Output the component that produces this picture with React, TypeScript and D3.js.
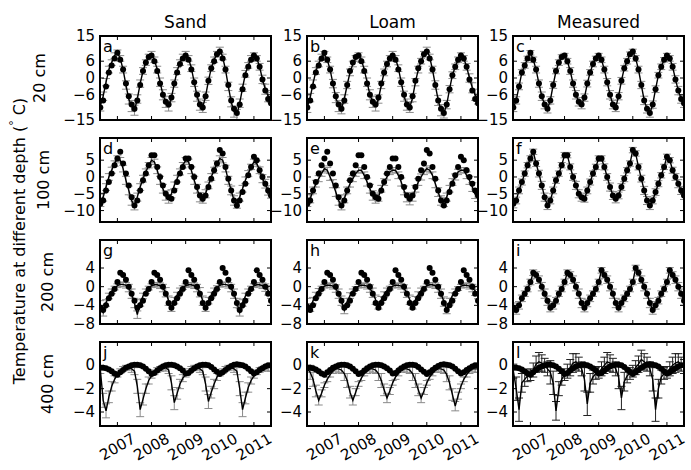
import React from 'react';
import * as d3 from 'd3';

// ---------- labels ----------
const columnTitles = ['Sand', 'Loam', 'Measured'];
const depthLabels = ['20 cm', '100 cm', '200 cm', '400 cm'];
const panelLetters = ['a', 'b', 'c', 'd', 'e', 'f', 'g', 'h', 'i', 'j', 'k', 'l'];
const yearTicks = [2007, 2008, 2009, 2010, 2011];
const yTicks20 = [-15, -6, 0, 6, 15];
const yTicks100 = [-10, -5, 0, 5];
const yTicks200 = [-8, -4, 0, 4];
const yTicks400 = [-4, -2, 0];
const yDomain20 = [-15, 15];
const yDomain100 = [-13.4, 11.6];
const yDomain200 = [-8, 10];
const yDomain400 = [-5.2, 2];
const startYear = 2006.5; // monthly series, first month July 2006

// ---------- 20 cm ----------
const meas20 = [-10.5, -8, -3, 2, 4.5, 7, 9, 6.5, 3, -2, -6.5, -9.5, -11,
  -8, -2.5, 2.5, 5.5, 7.5, 8, 6, 2.5, -2, -6, -8.5, -9.5,
  -7, -2, 2, 5, 7, 8, 6.5, 3, -1.5, -6, -9.5, -10.5,
  -6.5, -1, 3.5, 6, 8.5, 9.5, 7, 3, -2.5, -8, -11, -12.5,
  -9.5, -4, 1, 4, 6.5, 8, 7, 4, -0.5, -4.5, -7.5, -9];
const sand20 = [-10, -6.5, -1.5, 3, 5.5, 8, 9, 7, 3, -2.5, -7.5, -10, -11.5,
  -7.5, -2, 2.5, 5.5, 7.5, 8.5, 6.5, 3, -1.5, -6, -8.5, -10,
  -7, -2, 2.5, 5.5, 7.5, 8.5, 7, 3.5, -1.5, -6.5, -9.5, -10.5,
  -6.5, -1, 3.5, 6.5, 8.5, 10, 7.5, 3, -3, -8.5, -12, -13,
  -9, -3.5, 1.5, 4.5, 7, 8, 7, 4, -0.5, -4, -6.5, -7];
const loam20 = [-10.5, -7, -2, 2.5, 5, 7.5, 8.5, 6.5, 3, -2, -7, -10, -11,
  -7.5, -2.5, 2, 5, 7, 8, 6.5, 3, -1.5, -6, -8.5, -10,
  -7.5, -2.5, 2, 5, 7, 8.5, 7, 3.5, -1.5, -6.5, -9.5, -10.5,
  -7, -1.5, 3, 6, 8.5, 10, 7.5, 3, -2.5, -8, -11.5, -12.5,
  -9.5, -4, 1, 4, 6.5, 8, 7, 4, 0, -3.5, -6, -7.5];

// ---------- 100 cm ----------
const meas100 = [-8, -7, -4, -1.5, 1, 3.5, 5.5, 7.5, 4, 1, -2.5, -6, -8.5,
  -7, -4, -1, 1, 3.5, 6.5, 6.5, 3, 0, -2.5, -5, -6,
  -6.5, -4, -1.5, 1, 3, 5.5, 5.5, 3, 0, -3, -5.5, -6.5,
  -5.5, -3, -0.5, 2, 4, 8, 7, 3, -0.5, -4, -7, -8.5,
  -7, -4.5, -2, 0.5, 3, 6, 5, 2, 0, -2, -4, -5.5];
const sand100 = [-7.5, -6, -3, 0, 2, 4, 5.5, 5, 2.5, -1, -4, -7, -8.5,
  -6, -3, -0.5, 1.5, 3.5, 5, 4.5, 2, -1, -3.5, -5.5, -6.5,
  -5, -2.5, -0.5, 1.5, 3.5, 5, 4.5, 2, -1, -3.5, -6, -6.5,
  -5, -2.5, 0, 2, 4, 5.5, 5, 2.5, -1, -4, -7, -8,
  -6, -3.5, -1, 1, 3, 4.5, 4, 2, -0.5, -2, -4, -5];
const loam100 = [-7.5, -6.5, -4, -2, -0.5, 1, 2.5, 2, 0, -2, -4.5, -7, -8.5,
  -6.5, -4, -2, -0.5, 1, 2, 2, 0.5, -1.5, -3.5, -5.5, -6.5,
  -6, -3.5, -1.5, 0, 1.5, 2, 2, 0.5, -1.5, -4, -6, -7,
  -6, -3.5, -1.5, 0, 1.5, 2.5, 2, 0.5, -2, -4.5, -7, -7.5,
  -6, -3.5, -1.5, 0, 1.5, 2, 2, 0.5, -1, -3, -5, -6];

// ---------- 200 cm ----------
const meas200 = [-4.5, -5, -4, -2.5, -1.5, -0.5, 1, 3, 2.5, 1.5, 0, -1.5, -3,
  -4.5, -4, -3, -1.5, -0.5, 1, 3, 2.5, 1.5, 0, -1.5, -3.5,
  -4.5, -3.5, -2.5, -1.5, -0.5, 1, 3.5, 2.5, 1.5, 0, -1.5, -3.5,
  -4.5, -3.5, -2.5, -1.5, -0.5, 1, 4, 3, 1.5, 0, -1.5, -3.5,
  -5, -4, -3, -1.5, -0.5, 1, 3.5, 2.5, 1.5, 0, -1.5, -3];
const sand200 = [-4, -5.5, -3.5, -2, -1, -0.3, 0.2, 0.5, 0.5, 0.3, -0.3, -1.5, -3.5,
  -6, -3.5, -2, -1, -0.3, 0.2, 0.4, 0.4, 0.2, -0.3, -1.2, -3,
  -4.5, -3, -1.8, -0.8, -0.2, 0.2, 0.4, 0.4, 0.2, -0.3, -1.2, -3,
  -4.5, -3, -1.8, -0.8, -0.2, 0.3, 0.5, 0.5, 0.3, -0.3, -1.5, -3.5,
  -5.5, -3.5, -2, -1, -0.3, 0.2, 0.4, 0.4, 0.2, -0.2, -0.8, -1.5];
const loam200 = [-3.5, -4.5, -3, -1.8, -0.9, -0.3, 0.1, 0.3, 0.3, 0.1, -0.4, -1.5, -3,
  -5, -3.2, -1.9, -1, -0.4, 0.1, 0.3, 0.3, 0.1, -0.4, -1.3, -2.8,
  -4, -2.8, -1.7, -0.8, -0.3, 0.1, 0.3, 0.3, 0.1, -0.4, -1.3, -2.8,
  -4, -2.8, -1.7, -0.8, -0.3, 0.2, 0.4, 0.4, 0.2, -0.4, -1.5, -3.2,
  -5, -3.2, -1.9, -1, -0.4, 0.1, 0.3, 0.3, 0.1, -0.3, -0.9, -1.6];

// ---------- 400 cm ----------
const meas400 = [-0.2, -0.2, -0.25, -0.35, -0.5, -0.7, -0.8, -0.6, -0.4, -0.2, -0.1, 0, 0.05,
  0.05, 0, -0.1, -0.3, -0.5, -0.75, -0.65, -0.45, -0.25, -0.1, 0, 0.05,
  0.05, 0, -0.1, -0.25, -0.45, -0.7, -0.65, -0.45, -0.25, -0.1, 0, 0.05,
  0.05, 0, -0.15, -0.35, -0.55, -0.75, -0.6, -0.4, -0.2, -0.05, 0.05, 0.1,
  0.05, 0, -0.1, -0.3, -0.5, -0.7, -0.6, -0.4, -0.25, -0.1, 0, 0];
const sand400 = [-0.4, -3.0, -3.9, -2.7, -1.8, -1.2, -0.8, -0.5, -0.3, -0.2, -0.2, -0.3, -0.5,
  -1.8, -3.8, -2.9, -2.0, -1.3, -0.9, -0.6, -0.4, -0.3, -0.2, -0.2, -0.4,
  -1.5, -3.2, -2.4, -1.6, -1.1, -0.8, -0.5, -0.3, -0.2, -0.2, -0.3, -0.5,
  -1.6, -3.1, -2.3, -1.6, -1.0, -0.7, -0.5, -0.3, -0.2, -0.2, -0.3, -0.5,
  -2.0, -3.8, -2.8, -1.9, -1.3, -0.9, -0.6, -0.4, -0.3, -0.2, -0.2, -0.2];
const loam400 = [-0.3, -0.6, -1.2, -2.2, -3.0, -2.4, -1.7, -1.2, -0.8, -0.5, -0.3, -0.3, -0.4,
  -0.7, -1.3, -2.3, -3.0, -2.3, -1.6, -1.1, -0.7, -0.5, -0.3, -0.3, -0.4,
  -0.7, -1.3, -2.1, -2.8, -2.2, -1.5, -1.0, -0.7, -0.4, -0.3, -0.3, -0.4,
  -0.7, -1.3, -2.1, -2.8, -2.2, -1.5, -1.0, -0.7, -0.4, -0.3, -0.3, -0.4,
  -0.8, -1.5, -2.5, -3.5, -2.6, -1.8, -1.2, -0.8, -0.5, -0.3, -0.3, -0.3];
const obs400 = [-0.5, -2.0, -3.8, -1.5, -1.2, -0.9, -0.8, -0.4, 0.1, 0.3, 0.2, 0, -0.3,
  -0.6, -1.5, -3.9, -2.0, -1.2, -0.8, -0.5, -0.2, 0.2, 0.3, 0.1, -0.3,
  -1.2, -3.3, -1.5, -1.0, -0.7, -0.6, -0.3, 0, 0.3, 0.2, 0, -0.3,
  -1.0, -2.8, -1.4, -0.9, -0.7, -0.5, -0.2, 0.1, 0.5, 0.3, 0.1, -0.3,
  -1.2, -3.8, -2.0, -1.0, -0.7, -0.6, -0.3, 0, 0.2, 0.3, 0.1, -0.1];

// ---------- error half-widths by calendar month (Jul..Jun) ----------
const errModel20 = [1.8, 1.5, 1.3, 1.2, 1.0, 1.0, 1.0, 1.0, 1.2, 1.5, 1.8, 2.0];
const errObs20 = [1.5, 1.3, 1.2, 1.0, 1.0, 0.8, 0.8, 1.0, 1.2, 1.3, 1.5, 1.5];
const errModel100 = [1.3, 1.2, 1.0, 1.0, 0.9, 0.8, 0.8, 0.8, 1.0, 1.2, 1.3, 1.4];
const errObs100 = [1.2, 1.0, 1.0, 0.9, 0.8, 0.8, 0.8, 0.8, 0.9, 1.0, 1.2, 1.2];
const errModel200 = [1.0, 0.8, 0.7, 0.6, 0.5, 0.4, 0.4, 0.4, 0.5, 0.6, 0.8, 1.0];
const errObs200 = [1.0, 0.9, 0.8, 0.7, 0.6, 0.6, 0.6, 0.6, 0.7, 0.8, 0.9, 1.0];
const errModel400 = [0.3, 0.6, 0.6, 0.5, 0.4, 0.3, 0.2, 0.2, 0.2, 0.2, 0.2, 0.3];
const errObs400 = [0.6, 1.0, 1.0, 0.8, 0.6, 0.5, 0.5, 0.6, 0.7, 0.8, 0.7, 0.6];

const rows = [
  { domain: yDomain20, ticks: yTicks20, dots: meas20, lines: [sand20, loam20, meas20], errs: [errModel20, errModel20, errObs20], labelX: 39 },
  { domain: yDomain100, ticks: yTicks100, dots: meas100, lines: [sand100, loam100, meas100], errs: [errModel100, errModel100, errObs100], labelX: 43 },
  { domain: yDomain200, ticks: yTicks200, dots: meas200, lines: [sand200, loam200, meas200], errs: [errModel200, errModel200, errObs200], labelX: 47 },
  { domain: yDomain400, ticks: yTicks400, dots: meas400, lines: [sand400, loam400, obs400], errs: [errModel400, errModel400, errObs400], labelX: 47 },
];

// ---------- layout ----------
const W = 691;
const H = 470;
const colLeft = [100, 307, 513];
const panelW = 171;
const rowTop = [36, 138, 240, 342];
const panelH = 84;
const FONT = 'DejaVu Sans, sans-serif';

const fmt = (v: number) => (v < 0 ? '\u2212' + Math.abs(v) : String(v));

function Panel({ r, c }: { r: number; c: number }) {
  const row = rows[r];
  const x = d3.scaleLinear().domain([2006.49, 2011.5]).range([0, panelW]);
  const y = d3.scaleLinear().domain(row.domain).range([panelH, 0]);
  const series = row.lines[c];
  const err = row.errs[c];
  const t = (i: number) => startYear + i / 12;
  const line = d3.line<number>().x((_, i) => x(t(i))).y((v) => y(v));
  const id = `clip-${r}-${c}`;
  const left = colLeft[c];
  const top = rowTop[r];
  const errColor = r === 3 && c === 2 ? '#222' : '#8a8a8a';
  return (
    <g transform={`translate(${left},${top})`}>
      <defs>
        <clipPath id={id}>
          <rect x={0} y={0} width={panelW} height={panelH} />
        </clipPath>
      </defs>
      <g clipPath={`url(#${id})`}>
        {series.map((v, i) => {
          const e = err[i % 12];
          const cx = x(t(i));
          const y1 = y(v - e);
          const y2 = y(v + e);
          return (
            <g key={'e' + i} stroke={errColor} strokeWidth={1}>
              <line x1={cx} x2={cx} y1={y1} y2={y2} />
              <line x1={cx - 4} x2={cx + 4} y1={y1} y2={y1} />
              <line x1={cx - 4} x2={cx + 4} y1={y2} y2={y2} />
            </g>
          );
        })}
        <path d={line(series) || ''} fill="none" stroke="#000" strokeWidth={1.4} />
        {row.dots.map((v, i) => (
          <circle key={'d' + i} cx={x(t(i))} cy={y(v)} r={3} fill="#000" />
        ))}
      </g>
      {yearTicks.map((yr) => (
        <g key={'xt' + yr} stroke="#000" strokeWidth={1}>
          <line x1={x(yr)} x2={x(yr)} y1={0} y2={4} />
          <line x1={x(yr)} x2={x(yr)} y1={panelH} y2={panelH - 4} />
        </g>
      ))}
      {row.ticks.map((v) => (
        <g key={'yt' + v}>
          <line x1={0} x2={4} y1={y(v)} y2={y(v)} stroke="#000" strokeWidth={1} />
          <line x1={panelW} x2={panelW - 4} y1={y(v)} y2={y(v)} stroke="#000" strokeWidth={1} />
          <text x={-5} y={y(v)} textAnchor="end" dominantBaseline="central" fontSize={15} fontFamily={FONT}>
            {fmt(v)}
          </text>
        </g>
      ))}
      <rect x={0} y={0} width={panelW} height={panelH} fill="none" stroke="#000" strokeWidth={2} />
      <text x={3} y={16} fontSize={16} fontFamily={FONT}>
        {panelLetters[r * 3 + c]}
      </text>
      {r === 3 &&
        yearTicks.map((yr) => (
          <text
            key={'xl' + yr}
            x={x(yr)}
            y={panelH + 21}
            textAnchor="middle"
            dominantBaseline="central"
            fontSize={15}
            fontFamily={FONT}
            transform={`rotate(-30,${x(yr)},${panelH + 21})`}
          >
            {yr}
          </text>
        ))}
    </g>
  );
}

export default function App() {
  return (
    <svg
      width={W}
      height={H}
      style={{ position: 'absolute', left: 0, top: 0, background: '#fff' }}
      xmlns="http://www.w3.org/2000/svg"
    >
      <rect x={0} y={0} width={W} height={H} fill="#fff" />
      {columnTitles.map((tt, c) => (
        <text key={tt} x={colLeft[c] + panelW / 2} y={28} textAnchor="middle" fontSize={17} fontFamily={FONT}>
          {tt}
        </text>
      ))}
      {depthLabels.map((lab, r) => (
        <text
          key={lab}
          transform={`translate(${rows[r].labelX},${rowTop[r] + panelH / 2}) rotate(-90)`}
          textAnchor="middle"
          dominantBaseline="central"
          fontSize={16}
          fontFamily={FONT}
        >
          {lab}
        </text>
      ))}
      <text
        transform="translate(19,241) rotate(-90)"
        textAnchor="middle"
        dominantBaseline="central"
        fontSize={16}
        fontFamily={FONT}
      >
        Temperature at different depth (<tspan dy={-6} fontSize={11}>°</tspan>
        <tspan dy={6}> C)</tspan>
      </text>
      {rows.map((_, r) => columnTitles.map((__, c) => <Panel key={`${r}-${c}`} r={r} c={c} />))}
    </svg>
  );
}
